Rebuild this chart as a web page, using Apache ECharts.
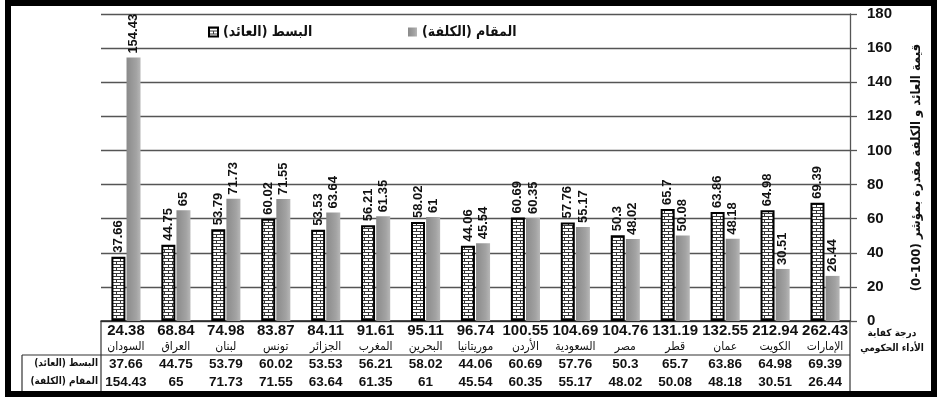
<!DOCTYPE html>
<html>
<head>
<meta charset="utf-8">
<script src="https://cdn.jsdelivr.net/npm/echarts@6/dist/echarts.min.js"></script>
<style>
  html, body { margin: 0; padding: 0; background: #fff; }
  #chart { width: 937px; height: 400px; }
</style>
</head>
<body>
<div id="chart"></div>
<script>
// Countries, ordered by their government-efficiency score
const categories = ['السودان', 'العراق', 'لبنان', 'تونس', 'الجزائر', 'المغرب', 'البحرين', 'موريتانيا', 'الأردن', 'السعودية', 'مصر', 'قطر', 'عمان', 'الكويت', 'الإمارات'];
// Government performance efficiency score shown under each country
const efficiencyScores = ['24.38', '68.84', '74.98', '83.87', '84.11', '91.61', '95.11', '96.74', '100.55', '104.69', '104.76', '131.19', '132.55', '212.94', '262.43'];
// Numerator (return) and denominator (cost), index 0-100
const returnValues = [37.66, 44.75, 53.79, 60.02, 53.53, 56.21, 58.02, 44.06, 60.69, 57.76, 50.3, 65.7, 63.86, 64.98, 69.39];
const costValues = [154.43, 65, 71.73, 71.55, 63.64, 61.35, 61, 45.54, 60.35, 55.17, 48.02, 50.08, 48.18, 30.51, 26.44];
const seriesNames = ['البسط (العائد)', 'المقام (الكلفة)'];
const yAxisTitle = 'قيمة العائد و الكلفة مقدرة بمؤشر (100-0)';
const tableCaption = ['درجة كفاية', 'الأداء الحكومي'];
const yMin = 0, yMax = 180, yStep = 20;

const RLM = '\u200F';
const rtl = s => RLM + s + RLM;
const ARABIC_FONT = '"DejaVu Sans Condensed", "DejaVu Sans", sans-serif';
const NUM_FONT = '"Liberation Sans", Arial, sans-serif';

// Brick fill used for the return series
function brickPattern() {
  const c = document.createElement('canvas');
  c.width = 8; c.height = 6;
  const g = c.getContext('2d');
  g.fillStyle = '#ffffff';
  g.fillRect(0, 0, 8, 6);
  g.fillStyle = '#3a3a3a';
  g.fillRect(0, 0, 8, 1);
  g.fillRect(0, 3, 8, 1);
  g.fillRect(0, 1, 1, 2);
  g.fillRect(4, 4, 1, 2);
  return c;
}

const chart = echarts.init(document.getElementById('chart'), null, { renderer: 'canvas' });

const grid = { left: 101, right: 87, top: 14, bottom: 79 };

const valueLabel = {
  show: true,
  position: 'top',
  rotate: 90,
  align: 'left',
  verticalAlign: 'middle',
  distance: 4,
  color: '#111',
  fontFamily: NUM_FONT,
  fontWeight: 'bold',
  fontSize: 13
};

const legendText = { fontFamily: ARABIC_FONT, fontWeight: 'bold', fontSize: 14, color: '#111' };

const option = {
  animation: false,
  backgroundColor: '#ffffff',
  grid: grid,
  legend: [
    {
      data: [seriesNames[0]],
      left: 203, top: 20,
      itemWidth: 9, itemHeight: 9,
      icon: 'rect',
      formatter: n => rtl(n),
      textStyle: legendText
    },
    {
      data: [seriesNames[1]],
      left: 403, top: 20,
      itemWidth: 9, itemHeight: 9,
      icon: 'rect',
      formatter: n => rtl(n),
      textStyle: legendText
    }
  ],
  xAxis: {
    type: 'category',
    data: categories,
    axisLine: { show: true, lineStyle: { color: '#222', width: 1.5 } },
    axisTick: { show: false },
    axisLabel: {
      interval: 0,
      margin: 1,
      formatter: (value, idx) =>
        '{n|' + efficiencyScores[idx] + '}\n{c|' + rtl(value) + '}\n{v|' + returnValues[idx] + '}\n{v|' + costValues[idx] + '}',
      rich: {
        n: { fontFamily: NUM_FONT, fontWeight: 'bold', fontSize: 15, lineHeight: 17, color: '#111' },
        c: { fontFamily: ARABIC_FONT, fontSize: 12, lineHeight: 16, color: '#111' },
        v: { fontFamily: NUM_FONT, fontWeight: 'bold', fontSize: 13.5, lineHeight: 18, color: '#111' }
      }
    }
  },
  yAxis: {
    type: 'value',
    position: 'right',
    min: yMin, max: yMax, interval: yStep,
    name: rtl(yAxisTitle),
    nameLocation: 'middle',
    nameRotate: 90,
    nameGap: 60,
    nameTextStyle: { fontFamily: ARABIC_FONT, fontWeight: 'bold', fontSize: 13, color: '#111' },
    axisLine: { show: true, lineStyle: { color: '#555', width: 1.3 } },
    axisTick: { show: true, inside: false, length: 7, lineStyle: { color: '#555', width: 1.3 } },
    axisLabel: { margin: 17, fontFamily: NUM_FONT, fontWeight: 'bold', fontSize: 15, color: '#111' },
    splitLine: { show: true, lineStyle: { color: '#555', width: 1.3 } }
  },
  series: [
    {
      name: seriesNames[0],
      type: 'bar',
      data: returnValues,
      barWidth: 14,
      barGap: '8%',
      itemStyle: {
        color: { image: brickPattern(), repeat: 'repeat' },
        borderColor: '#000',
        borderWidth: 2
      },
      label: valueLabel
    },
    {
      name: seriesNames[1],
      type: 'bar',
      data: costValues,
      barWidth: 14,
      itemStyle: {
        color: new echarts.graphic.LinearGradient(0, 0, 1, 0, [
          { offset: 0, color: '#8a8a8a' },
          { offset: 0.7, color: '#a3a3a3' },
          { offset: 1, color: '#b6b6b6' }
        ])
      },
      label: valueLabel
    }
  ],
  graphic: [
    // outer frame
    { type: 'rect', shape: { x: 8, y: 3, width: 926, height: 391 }, style: { fill: null, stroke: '#000', lineWidth: 6 }, silent: true },
    // table rules
    { type: 'line', shape: { x1: 22, y1: 355, x2: 850, y2: 355 }, style: { stroke: '#333', lineWidth: 1.2 }, silent: true },
    { type: 'line', shape: { x1: 101, y1: 321, x2: 101, y2: 391 }, style: { stroke: '#333', lineWidth: 1.2 }, silent: true },
    { type: 'line', shape: { x1: 850, y1: 321, x2: 850, y2: 391 }, style: { stroke: '#333', lineWidth: 1.2 }, silent: true },
    { type: 'line', shape: { x1: 22, y1: 355, x2: 22, y2: 391 }, style: { stroke: '#333', lineWidth: 1.2 }, silent: true },
    // row headers
    { type: 'text', x: 98, y: 363, style: { text: rtl(seriesNames[0]), align: 'right', verticalAlign: 'middle', font: 'bold 10px ' + ARABIC_FONT, fill: '#111' }, silent: true },
    { type: 'text', x: 98, y: 381, style: { text: rtl(seriesNames[1]), align: 'right', verticalAlign: 'middle', font: 'bold 10px ' + ARABIC_FONT, fill: '#111' }, silent: true },
    // caption for the score row
    { type: 'text', x: 892, y: 333, style: { text: rtl(tableCaption[0]), align: 'center', verticalAlign: 'middle', font: 'bold 10px ' + ARABIC_FONT, fill: '#111' }, silent: true },
    { type: 'text', x: 892, y: 348, style: { text: rtl(tableCaption[1]), align: 'center', verticalAlign: 'middle', font: 'bold 10px ' + ARABIC_FONT, fill: '#111' }, silent: true }
  ]
};

chart.setOption(option);
</script>
</body>
</html>
